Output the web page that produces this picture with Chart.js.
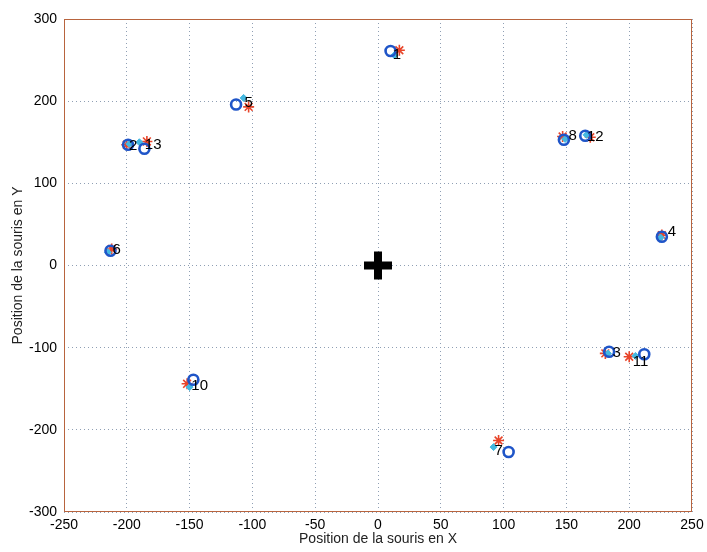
<!DOCTYPE html>
<html>
<head>
<meta charset="utf-8">
<script src="https://cdn.jsdelivr.net/npm/chart.js@4"></script>
<style>
  html, body { margin: 0; padding: 0; background: #fff; }
  #wrap { width: 707px; height: 552px; }
</style>
</head>
<body>
<div id="wrap"><canvas id="scatter-chart"></canvas></div>
<script>
// cibles numérotées
const numbers = ['1', '2', '3', '4', '5', '6', '7', '8', '10', '11', '12', '13'];
const circleX = [10, -199, 184, 226, -113, -213, 104, 148, -147, 212, 165, -186];
const circleY = [261, 147, -105, 35, 196, 18, -227, 153, -139, -108, 158, 142];
const starX = [17, -200, 181, 226, -103, -212, 96, 147, -152, 200, 169, -184];
const starY = [262, 147, -107, 37, 193, 20, -213, 157, -144, -111, 156, 151];
const cyanX = [13, -198, 183, 225, -107, -215, 92, 149, -150, 205, 166, -190];
const cyanY = [256, 148, -107, 34, 204, 16, -221, 154, -148, -110, 159, 150];
const labelX = [15, -195, 190, 234, -103, -208, 96, 155, -142, 209, 173, -179];
const labelY = [256, 146, -106, 41, 198, 19, -225, 158, -146, -117, 157, 147];
const centerX = [0];
const centerY = [0];
const xTicks = [-250, -200, -150, -100, -50, 0, 50, 100, 150, 200, 250];
const yTicks = [-300, -200, -100, 0, 100, 200, 300];

function toPoints(xs, ys) {
    return xs.map((x, i) => ({ x: x, y: ys[i] }));
}

const fontFamily = "'Liberation Sans', Arial, sans-serif";

// cadre autour de la zone de tracé + numéros des cibles
const framePlugin = {
    id: 'frame',
    afterDatasetsDraw(chart) {
        const { ctx, chartArea: a, scales } = chart;
        ctx.save();
        ctx.strokeStyle = '#b8643e';
        ctx.lineWidth = 1;
        ctx.strokeRect(a.left + 0.5, a.top + 0.5, a.right - a.left - 1, a.bottom - a.top - 1);

        ctx.fillStyle = '#000';
        ctx.font = '15px ' + fontFamily;
        ctx.textAlign = 'center';
        ctx.textBaseline = 'middle';
        numbers.forEach((n, i) => {
            ctx.fillText(n, scales.x.getPixelForValue(labelX[i]), scales.y.getPixelForValue(labelY[i]));
        });
        ctx.restore();
    }
};

const ctx = document.getElementById('scatter-chart').getContext('2d');

const chart = new Chart(ctx, {
    type: 'scatter',
    data: {
        datasets: [{
            label: 'cercles',
            data: toPoints(circleX, circleY),
            pointStyle: 'circle',
            pointRadius: 5,
            borderColor: '#1f55c8',
            backgroundColor: 'rgba(0,0,0,0)',
            pointBorderWidth: 2.6
        }, {
            label: 'cyan',
            data: toPoints(cyanX, cyanY),
            pointStyle: 'rectRot',
            pointRadius: 3.5,
            borderColor: '#45b8e0',
            backgroundColor: '#45b8e0',
            pointBorderWidth: 1
        }, {
            label: 'etoiles',
            data: toPoints(starX, starY),
            pointStyle: 'star',
            pointRadius: 5.5,
            borderColor: '#e8452a',
            backgroundColor: '#e8452a',
            pointBorderWidth: 1.6
        }, {
            label: 'centre',
            data: toPoints(centerX, centerY),
            pointStyle: 'cross',
            pointRadius: 14,
            borderColor: '#000',
            backgroundColor: '#000',
            pointBorderWidth: 8
        }]
    },
    options: {
        responsive: true,
        maintainAspectRatio: false,
        animation: false,
        events: [],
        layout: {
            autoPadding: false,
            padding: { left: 0, right: 15, top: 19, bottom: 0 }
        },
        plugins: {
            legend: { display: false },
            tooltip: { enabled: false }
        },
        scales: {
            x: {
                type: 'linear',
                min: -250,
                max: 250,
                afterBuildTicks: (scale) => { scale.ticks = xTicks.map(v => ({ value: v })); },
                afterFit: (scale) => {
                    scale.height = 40;
                    scale.paddingLeft = 0;
                    scale.paddingRight = 0;
                },
                grid: { color: '#8f9fb4', lineWidth: 1, drawTicks: false },
                border: { display: false, dash: [1, 3] },
                ticks: { color: '#000', padding: 5, maxRotation: 0, font: { size: 14, family: fontFamily } },
                title: {
                    display: true,
                    text: 'Position de la souris en X',
                    color: '#222',
                    padding: { top: 0, bottom: 4 },
                    font: { size: 14, family: fontFamily }
                }
            },
            y: {
                type: 'linear',
                min: -300,
                max: 300,
                afterBuildTicks: (scale) => { scale.ticks = yTicks.map(v => ({ value: v })); },
                afterFit: (scale) => {
                    scale.width = 64;
                    scale.paddingTop = 0;
                    scale.paddingBottom = 0;
                },
                grid: { color: '#8f9fb4', lineWidth: 1, drawTicks: false },
                border: { display: false, dash: [1, 3] },
                ticks: { color: '#000', padding: 7, font: { size: 14, family: fontFamily } },
                title: {
                    display: true,
                    text: 'Position de la souris en Y',
                    color: '#222',
                    padding: { top: 10, bottom: 0 },
                    font: { size: 14, family: fontFamily }
                }
            }
        }
    },
    plugins: [framePlugin]
});
</script>
</body>
</html>
